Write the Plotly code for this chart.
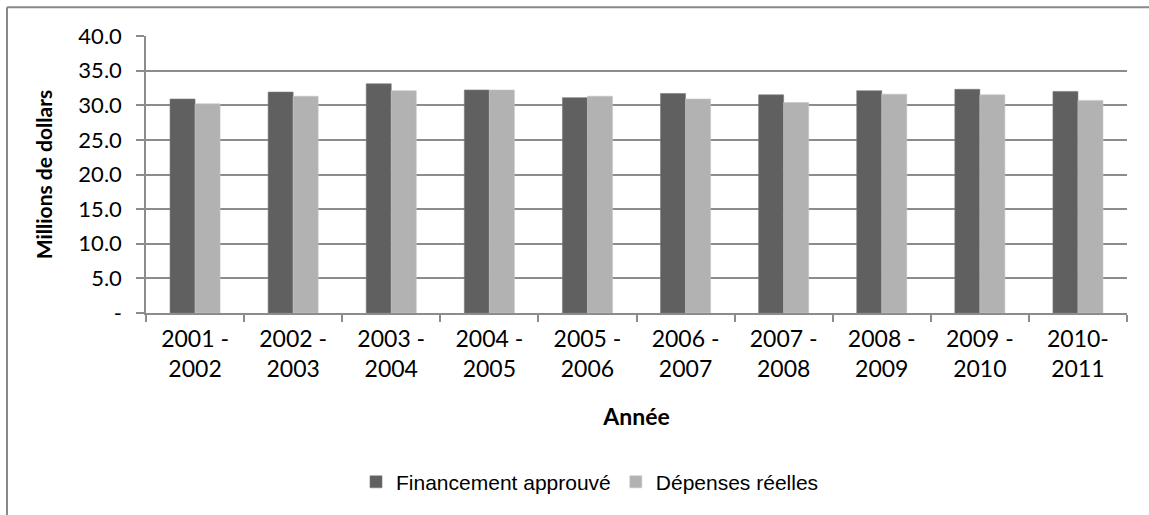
import plotly.graph_objects as go

# Fiscal years and spending series (millions of dollars)
annees = ["2001 -<br>2002", "2002 -<br>2003", "2003 -<br>2004", "2004 -<br>2005",
          "2005 -<br>2006", "2006 -<br>2007", "2007 -<br>2008", "2008 -<br>2009",
          "2009 -<br>2010", "2010-<br>2011"]
financement_approuve = [30.9, 31.9, 33.1, 32.2, 31.1, 31.7, 31.5, 32.1, 32.3, 32.0]
depenses_reelles = [30.2, 31.3, 32.1, 32.2, 31.3, 30.9, 30.4, 31.6, 31.5, 30.7]

y_ticks = [0, 5, 10, 15, 20, 25, 30, 35, 40]
y_tick_labels = ["-", "5.0", "10.0", "15.0", "20.0", "25.0", "30.0", "35.0", "40.0"]

W, H = 1149, 515
L, R, T, B = 146, 22, 36, 199
pw, ph = W - L - R, H - T - B

def px_x(p):
    return (p - L) / pw

def px_y(p):
    return (H - B - p) / ph

grid = "#8c8c8c"

fig = go.Figure()
fig.add_trace(go.Bar(x=annees, y=financement_approuve, name="Financement approuvé",
                     marker=dict(color="#606060", line=dict(color="#7a7a7a", width=0.6))))
fig.add_trace(go.Bar(x=annees, y=depenses_reelles, name="Dépenses réelles",
                     marker=dict(color="#b2b2b2", line=dict(color="#c4c4c4", width=0.6))))

fig.update_layout(
    width=W, height=H,
    margin=dict(l=L, r=R, t=T, b=B),
    paper_bgcolor="white", plot_bgcolor="white",
    barmode="group", bargap=0.49, bargroupgap=0,
    font=dict(family="Lato", color="black"),
    showlegend=True,
    legend=dict(orientation="h", x=px_x(590), xanchor="center", y=px_y(487), yanchor="middle",
                font=dict(family="Liberation Sans", size=21, color="black"),
                itemwidth=30, traceorder="normal"),
    xaxis=dict(
        type="category", showgrid=False,
        showline=True, linecolor=grid, linewidth=1.5,
        ticks="outside", ticklen=7, tickcolor=grid, tickwidth=1.5,
        tickson="boundaries", ticklabelstandoff=5,
        tickfont=dict(family="Lato", size=23, color="black"),
        title=dict(text="<b>Année</b>", font=dict(family="Lato", size=23, color="black"), standoff=28),
    ),
    yaxis=dict(
        range=[0, 40], tickvals=y_ticks, ticktext=y_tick_labels,
        showgrid=True, gridcolor=grid, gridwidth=1.5,
        showline=True, linecolor=grid, linewidth=1.5,
        ticks="outside", ticklen=8, tickcolor=grid, tickwidth=1.5,
        ticklabelstandoff=10,
        tickfont=dict(family="Lato", size=22, color="black"),
        zeroline=False,
        title=dict(text="<b>Millions de dollars</b>", font=dict(family="Lato", size=21, color="black"), standoff=20),
    ),
    shapes=[
        dict(type="line", xref="paper", yref="paper", x0=px_x(7), x1=px_x(1160),
             y0=px_y(7), y1=px_y(7), line=dict(color="#888888", width=2)),
        dict(type="line", xref="paper", yref="paper", x0=px_x(7), x1=px_x(7),
             y0=px_y(7), y1=px_y(530), line=dict(color="#888888", width=2)),
    ],
)

fig.write_html("out.html")
